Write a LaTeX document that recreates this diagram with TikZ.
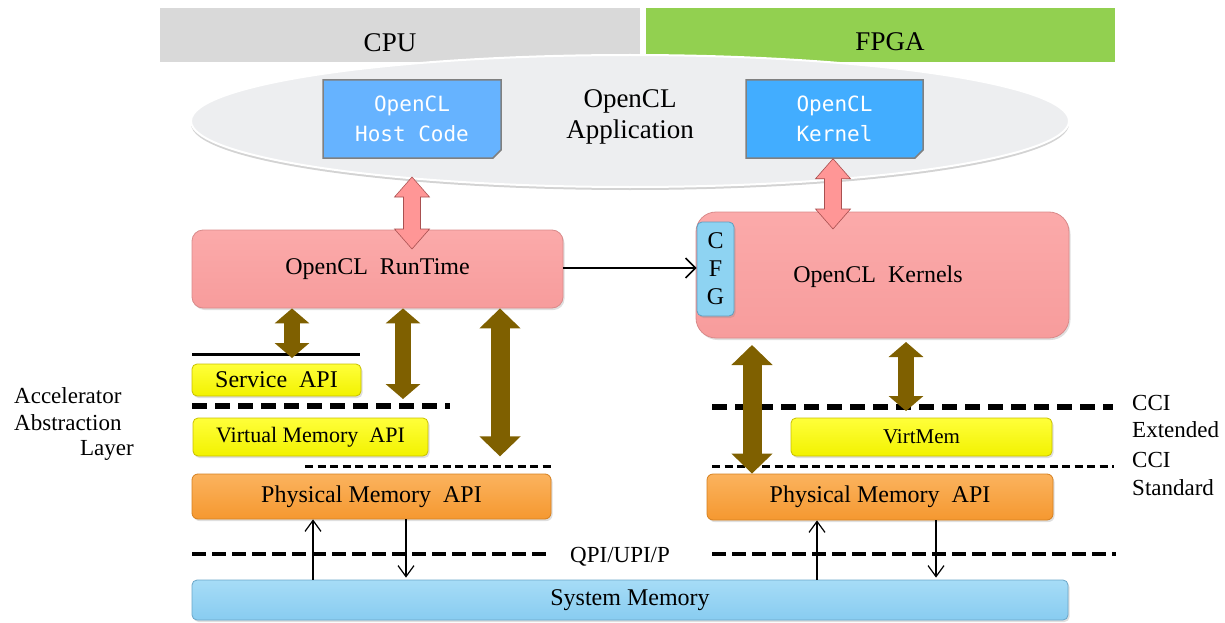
\documentclass[tikz,border=0pt]{standalone}
\usepackage{fontspec}
\setmainfont{Liberation Serif}
\setmonofont{DejaVu Sans Mono}
\usetikzlibrary{arrows.meta,shapes.misc,shadows,calc}

\definecolor{cpugray}{HTML}{D9D9D9}
\definecolor{fpgagreen}{HTML}{92D050}
\definecolor{appgray}{HTML}{EDEEF0}
\definecolor{hostblue}{HTML}{66B3FF}
\definecolor{kernblue}{HTML}{42ADFF}
\definecolor{pinktop}{HTML}{FBAAAA}
\definecolor{pinkbot}{HTML}{F79C9C}
\definecolor{pinkedge}{HTML}{D98A8A}
\definecolor{arrpink}{HTML}{FF9696}
\definecolor{arrpinkedge}{HTML}{A85050}
\definecolor{cfgblue}{HTML}{8ED3F2}
\definecolor{cfgedge}{HTML}{5E9FC0}
\definecolor{ytop}{HTML}{FFFF3A}
\definecolor{ybot}{HTML}{F2F200}
\definecolor{yedge}{HTML}{C8C000}
\definecolor{otop}{HTML}{FBB35E}
\definecolor{obot}{HTML}{F59830}
\definecolor{oedge}{HTML}{D58020}
\definecolor{systop}{HTML}{A6DCF7}
\definecolor{sysbot}{HTML}{88CCF0}
\definecolor{sysedge}{HTML}{6AA6C8}
\definecolor{brownarr}{HTML}{7F6000}

% outlined double block arrow between two points on one vertical line
\newcommand{\pinklink}[2]{%
  \draw[pinkshape] let \p1=(#1), \p2=(#2) in
    (\x1,\y1) -- (\x1+17.5pt,\y1-20pt) -- (\x1+8.5pt,\y1-20pt)
    -- (\x1+8.5pt,\y2+20pt) -- (\x1+17.5pt,\y2+20pt) -- (\x1,\y2)
    -- (\x1-17.5pt,\y2+20pt) -- (\x1-8.5pt,\y2+20pt)
    -- (\x1-8.5pt,\y1-20pt) -- (\x1-17.5pt,\y1-20pt) -- cycle;}

\begin{document}
\begin{tikzpicture}[x=1pt,y=-1pt,
  band/.style={rectangle, inner sep=0pt, font=\fontsize{27}{30}\selectfont},
  codebox/.style={chamfered rectangle, chamfered rectangle corners=south east,
    chamfered rectangle xsep=4pt, chamfered rectangle ysep=4pt,
    draw=gray, line width=1.5pt, inner sep=0pt, text=white, align=center,
    font=\fontsize{21}{30}\selectfont\ttfamily},
  layer/.style={rectangle, rounded corners=6pt, line width=0.8pt, inner sep=0pt,
    font=\fontsize{24}{27}\selectfont,
    drop shadow={opacity=0.25, shadow xshift=1.5pt, shadow yshift=-2pt}},
  pinkbox/.style={layer, draw=pinkedge, top color=pinktop, bottom color=pinkbot},
  yellowbox/.style={layer, rounded corners=5pt, draw=yedge, top color=ytop, bottom color=ybot},
  orangebox/.style={layer, draw=oedge, top color=otop, bottom color=obot},
  bluebox/.style={layer, draw=sysedge, top color=systop, bottom color=sysbot},
  pinkshape/.style={draw=arrpinkedge, fill=arrpink, line width=0.6pt, line join=miter},
  brownlink/.style={draw=brownarr, line width=16pt,
    {Triangle[width=34pt,length=15pt]}-{Triangle[width=34pt,length=15pt]}},
  widelink/.style={draw=brownarr, line width=19pt,
    {Triangle[width=40pt,length=20pt]}-{Triangle[width=40pt,length=20pt]}},
  memlink/.style={line width=1.2pt, -{Straight Barb[length=11pt,width=16pt]}},
  sep/.style={line width=3pt},
  bigdash/.style={line width=5.5pt, dash pattern=on 15pt off 8pt},
  smalldash/.style={line width=3pt, dash pattern=on 8pt off 4.5pt},
  lowdash/.style={line width=4pt, dash pattern=on 14pt off 6pt},
  lbl/.style={inner sep=0pt, font=\fontsize{23}{26}\selectfont}]

\path[use as bounding box] (0,0) rectangle (1225,623);

% processor bands
\node[band, fill=cpugray, minimum width=480pt, minimum height=54pt] (cpu) at (400,35) {};
\node[band] at (390,43) {CPU};
\node[band, fill=fpgagreen, minimum width=469pt, minimum height=54pt] (fpga) at (880.5,35) {};
\node[band] at (890,42) {FPGA};

% application ellipse
\fill[appgray, draw=white, line width=2pt,
  drop shadow={opacity=0.35, shadow xshift=0pt, shadow yshift=-3pt}]
  (630,121) ellipse [x radius=439, y radius=66];
\node[align=center, inner sep=0pt, font=\fontsize{27}{31}\selectfont] (app) at (630,117) {OpenCL\\Application};

\node[codebox, fill=hostblue, minimum width=178pt, minimum height=78pt] (host) at (412,119) {OpenCL\\Host Code};
\node[codebox, fill=kernblue, minimum width=177pt, minimum height=78pt] (kern) at (834.5,119) {OpenCL\\Kernel};

% runtime and kernels
\node[pinkbox, rounded corners=11pt, minimum width=371pt, minimum height=78pt] (rt) at (377.5,269) {OpenCL\ \ RunTime};
\node[pinkbox, rounded corners=20pt, minimum width=373pt, minimum height=126pt] (kns) at (882.5,275) {};
\node[lbl, font=\fontsize{24}{27}\selectfont] at (878,277) {OpenCL\ \ Kernels};
\node[layer, rounded corners=5pt, draw=cfgedge, fill=cfgblue, minimum width=37pt, minimum height=94pt,
  align=center, font=\fontsize{24}{28}\selectfont] (cfg) at (715.5,269) {C\\F\\G};

% host-side layers
\node[yellowbox, minimum width=169pt, minimum height=32pt] (svc) at (276.5,380) {Service\ \ API};
\node[yellowbox, minimum width=235pt, minimum height=38pt, font=\fontsize{22}{25}\selectfont] (vm) at (310.5,437) {Virtual Memory\ \ API};
\node[orangebox, minimum width=359pt, minimum height=45pt] (pm) at (371.5,496.5) {Physical Memory\ \ API};

% fpga-side layers
\node[yellowbox, minimum width=261pt, minimum height=38pt, font=\fontsize{21}{24}\selectfont] (vmem) at (921.5,437) {VirtMem};
\node[orangebox, minimum width=346pt, minimum height=46pt] (pmr) at (880,497) {Physical Memory\ \ API};

% system memory
\node[bluebox, rounded corners=5pt, minimum width=876pt, minimum height=40pt] (sys) at (630,600) {System Memory};

% layer separators
\draw[sep] (192,354) -- (360,354);
\draw[bigdash] (192,406) -- (450,406);
\draw[smalldash] (305,466) -- (553,466);
\draw[bigdash] (712,407) -- (1113,407);
\draw[smalldash] (712,466) -- (1114,466);
\draw[lowdash] (192,554) -- (552,554);
\draw[lowdash] (712,554) -- (1116,554);

% pink links into the application
\coordinate (hlt) at (412,177);
\coordinate (hlb) at (412,249);
\coordinate (klx) at (833,0);
\coordinate (klb) at (833,229);
\pinklink{hlt}{hlb}
\pinklink{kern.south -| klx}{klb}

% runtime to configuration port
\draw[line width=1.5pt, -{Straight Barb[length=10pt,width=20pt]}] (rt.east |- 0,268) coordinate (rtx) -- (cfg.west |- rtx);

% brown links from runtime down through the layers
\coordinate (xa) at (292,0);
\coordinate (xb) at (403,0);
\coordinate (xc) at (500,0);
\coordinate (xd) at (752,0);
\coordinate (xe) at (906,0);
\coordinate (ya) at (0,358);
\coordinate (yb) at (0,399);
\coordinate (yd) at (0,345);
\coordinate (ye) at (0,342);
\coordinate (yf) at (0,411);
\draw[brownlink] (rt.south -| xa) -- (xa |- ya);
\draw[brownlink] (rt.south -| xb) -- (xb |- yb);
\draw[widelink] (rt.south -| xc) -- (xc |- vm.south);
\draw[widelink] (xd |- yd) -- (xd |- pmr.north);
\draw[brownlink] (xe |- ye) -- (xe |- yf);

% memory traffic
\coordinate (m1) at (313,0);
\coordinate (m2) at (406,0);
\coordinate (m3) at (817,0);
\coordinate (m4) at (936,0);
\draw[memlink] (sys.north -| m1) -- (pm.south -| m1);
\draw[memlink] (pm.south -| m2) -- ([yshift=2pt]sys.north -| m2);
\draw[memlink] (sys.north -| m3) -- (pmr.south -| m3);
\draw[memlink] (pmr.south -| m4) -- ([yshift=2pt]sys.north -| m4);

% side labels
\node[lbl, anchor=west] at (14,396) {Accelerator};
\node[lbl, anchor=west] at (14,423) {Abstraction};
\node[lbl, anchor=east] at (134,450) {Layer};
\node[lbl, anchor=west] at (1132,403) {CCI};
\node[lbl, anchor=west] at (1132,430) {Extended};
\node[lbl, anchor=west] at (1132,460) {CCI};
\node[lbl, anchor=west] at (1132,488) {Standard};
\node[lbl, anchor=west, font=\fontsize{23}{25}\selectfont] at (570,557) {QPI/UPI/P};

\end{tikzpicture}
\end{document}
